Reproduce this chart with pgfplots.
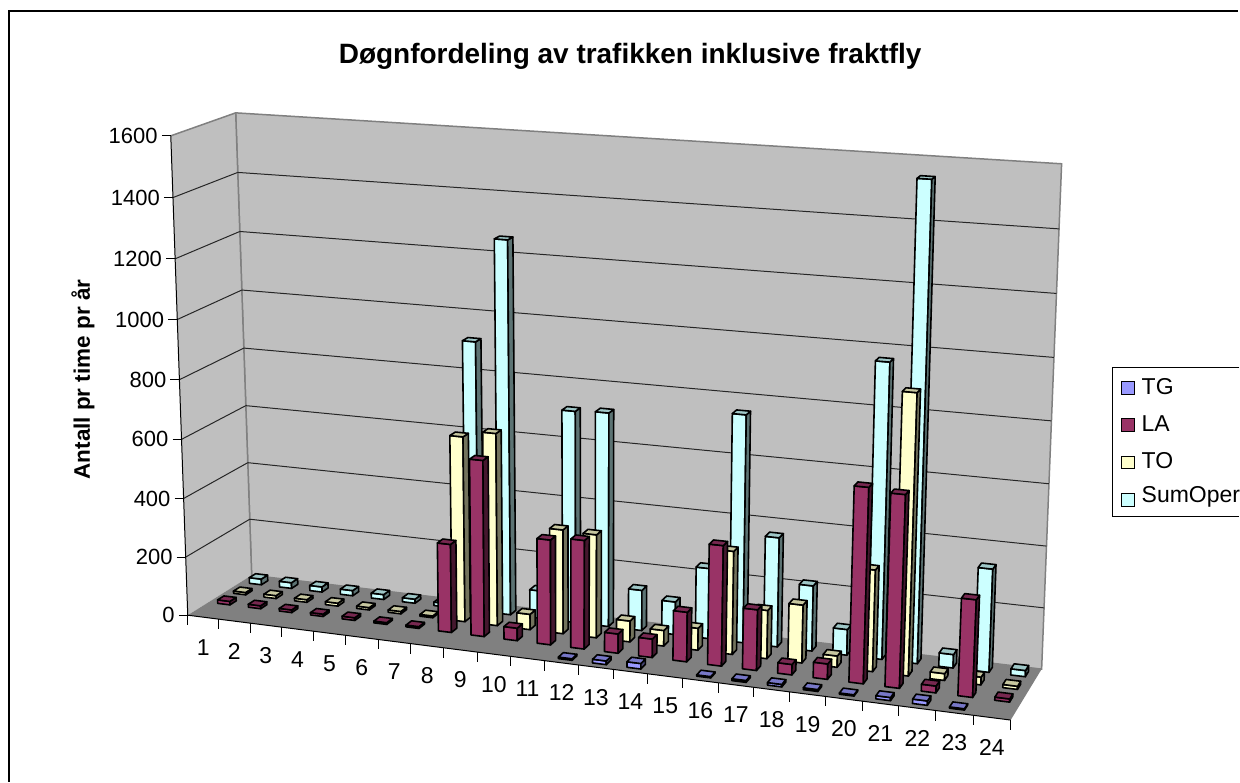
\documentclass[border=0pt]{standalone}
\usepackage{pgfplots}
\usepackage{pgfplotstable}
\usepackage{fontspec}
\setmainfont{Liberation Sans}
\pgfplotsset{compat=1.18}
\definecolor{cTG}{HTML}{9999FF}
\definecolor{cLA}{HTML}{993366}
\definecolor{cTO}{HTML}{FFFFCC}
\definecolor{cSum}{HTML}{CCFFFF}
\pgfplotstableread{
hour TG LA TO Sum
1 0 12 8 20
2 0 10 10 20
3 0 9 9 18
4 0 8 10 18
5 0 9 8 17
6 0 6 8 14
7 0 6 6 12
8 0 297 625 913
9 0 588 647 1258
10 0 42 52 94
11 0 349 349 712
12 5 360 345 717
13 12 64 70 136
14 18 61 52 110
15 0 163 73 235
16 4 393 340 753
17 6 198 159 362
18 8 34 190 216
19 6 50 37 85
20 4 627 330 963
21 10 616 905 1543
22 14 22 22 44
23 4 310 25 335
24 0 10 10 20
}\data
% perspective map from (category, depth, value) fractions to picture position
\newcommand\proj[4]{%
  \pgfmathsetmacro\U{(#1)-0.10*(#1)*(1-(#1))}%
  \pgfmathsetmacro\W{(#3)-0.035*(#3)*(1-(#3))}%
  \pgfmathsetmacro\V{#2}%
  \pgfmathsetmacro\Ax{188+824*\U+\V*(64-33*\U)}%
  \pgfmathsetmacro\Ay{616+105*\U+\V*(-40-11*\U)}%
  \pgfmathsetmacro\Bx{171+864*\U+\V*(65-37*\U)}%
  \pgfmathsetmacro\By{136+55*\U+\V*(-23-4*\U)}%
  \pgfmathsetmacro\Px{\Ax+\W*(\Bx-\Ax)}%
  \pgfmathsetmacro\Py{\Ay+\W*(\By-\Ay)}%
  \expandafter\edef\csname #4\endcsname{(\Px,\Py)}%
}
\newcommand\face[5]{%
  \edef\temp{\noexpand\addplot[fill=#1,draw=black,line width=1.6pt,line join=round,forget plot] coordinates {#2#3#4#5} --cycle;}\temp}
\newcommand\onebar[4]{% hour, row, value, colour
  \pgfmathsetmacro\ul{((#1)-0.7)/24}%
  \pgfmathsetmacro\ur{((#1)-0.3)/24}%
  \pgfmathsetmacro\vf{((#2)-0.7)/4}%
  \pgfmathsetmacro\vb{((#2)-0.3)/4}%
  \pgfmathsetmacro\wv{(#3)/1600}%
  \proj{\ul}{\vf}{0}{pa}\proj{\ur}{\vf}{0}{pb}\proj{\ur}{\vb}{0}{pc}%
  \proj{\ul}{\vf}{\wv}{pd}\proj{\ur}{\vf}{\wv}{pe}\proj{\ur}{\vb}{\wv}{pf}\proj{\ul}{\vb}{\wv}{pg}%
  \face{#4}{\pa}{\pb}{\pe}{\pd}%
  \face{#4!45!black}{\pb}{\pc}{\pf}{\pe}%
  \face{#4!78!black}{\pd}{\pe}{\pf}{\pg}%
}
\newcommand\rowbars[3]{% column, row, colour
  \pgfplotsforeachungrouped \r in {0,...,23}{%
    \pgfplotstablegetelem{\r}{#1}\of\data
    \let\val\pgfplotsretval
    \pgfmathsetmacro\hh{\r+1}%
    \pgfmathparse{\val>0?1:0}%
    \ifnum\pgfmathresult=1\relax
      \begingroup\onebar{\hh}{#2}{\val}{#3}\endgroup
    \fi
  }%
}
\newcommand\seg[3]{\edef\temp{\noexpand\addplot[#1,forget plot] coordinates {#2#3};}\temp}
\begin{document}
\begin{tikzpicture}
\begin{axis}[
  at={(0pt,0pt)},anchor=south west,
  width=1240pt,height=783pt,scale only axis,
  xmin=0,xmax=1240,ymin=0,ymax=783,y dir=reverse,
  hide axis,clip=false,
  no markers]
% frame
\addplot[black,line width=2pt,forget plot] coordinates {(9,783)(9,11)(1240,11)};
% walls and floor
\proj{0}{0}{0}{A}\proj{1}{0}{0}{B}\proj{1}{1}{0}{C}\proj{0}{1}{0}{D}
\proj{0}{0}{1}{E}\proj{1}{1}{1}{G}\proj{0}{1}{1}{H}
\edef\temp{\noexpand\addplot[fill=black!25,draw=black!50,line width=1.5pt,forget plot] coordinates {\D\C\G\H} --cycle;}\temp
\edef\temp{\noexpand\addplot[fill=black!25,draw=none,forget plot] coordinates {\A\D\H\E} --cycle;}\temp
\seg{black!50,line width=1.5pt}{\E}{\H}
\seg{black!50,line width=1.5pt}{\D}{\H}
% gridlines, value ticks
\pgfplotsforeachungrouped \t in {200,400,...,1400}{%
  \pgfmathsetmacro\ww{\t/1600}%
  \proj{0}{0}{\ww}{p}\proj{0}{1}{\ww}{q}\proj{1}{1}{\ww}{s}%
  \seg{black!85,line width=1pt}{\p}{\q}%
  \seg{black!85,line width=1pt}{\q}{\s}%
}
\edef\temp{\noexpand\addplot[fill=black!50,draw=none,forget plot] coordinates {\A\B\C\D} --cycle;}\temp
\seg{black,line width=1pt}{\E}{\A}
\seg{black,line width=1pt}{\A}{\B}
\pgfplotsforeachungrouped \t in {0,200,...,1600}{%
  \pgfmathsetmacro\ww{\t/1600}%
  \proj{0}{0}{\ww}{p}%
  \pgfmathsetmacro\tx{\Px-9}\pgfmathsetmacro\lx{\Px-13}%
  \edef\temp{\noexpand\addplot[black,line width=1pt,forget plot] coordinates {(\tx,\Py)(\Px,\Py)};
    \noexpand\node[anchor=east,inner sep=0pt,font=\noexpand\fontsize{22}{24}\noexpand\selectfont] at (axis cs:\lx,\Py) {\t};}\temp
}
% category ticks and names
\pgfplotsforeachungrouped \h in {0,...,24}{%
  \pgfmathsetmacro\ww{\h/24}%
  \proj{\ww}{0}{0}{p}%
  \pgfmathsetmacro\ty{\Py+10}%
  \edef\temp{\noexpand\addplot[black,line width=1pt,forget plot] coordinates {(\Px,\Py)(\Px,\ty)};}\temp
}
\pgfplotsforeachungrouped \h in {1,...,24}{%
  \pgfmathsetmacro\ww{(\h-0.5)/24}%
  \proj{\ww}{0}{0}{p}%
  \pgfmathsetmacro\ty{\Py+30}%
  \edef\temp{\noexpand\node[inner sep=0pt,font=\noexpand\fontsize{23}{25}\noexpand\selectfont] at (axis cs:\Px,\ty) {\h};}\temp
}
% bars, back row first
\rowbars{Sum}{4}{cSum}
\rowbars{TO}{3}{cTO}
\rowbars{LA}{2}{cLA}
\rowbars{TG}{1}{cTG}
% legend
\addplot[fill=white,draw=black,line width=1.2pt,forget plot] coordinates {(1241,368)(1114,368)(1114,517)(1241,517)};
\addplot[fill=cTG,draw=black,line width=1.4pt,forget plot] coordinates {(1123,382)(1136,382)(1136,395)(1123,395)} --cycle;
\addplot[fill=cLA,draw=black,line width=1.4pt,forget plot] coordinates {(1123,419)(1136,419)(1136,432)(1123,432)} --cycle;
\addplot[fill=cTO,draw=black,line width=1.4pt,forget plot] coordinates {(1123,457)(1136,457)(1136,469)(1123,469)} --cycle;
\addplot[fill=cSum,draw=black,line width=1.4pt,forget plot] coordinates {(1123,494)(1136,494)(1136,507)(1123,507)} --cycle;
\tikzset{lg/.style={anchor=west,inner sep=0pt,font=\fontsize{23}{25}\selectfont}}
\node[lg] at (axis cs:1143,387) {TG};
\node[lg] at (axis cs:1143,424) {LA};
\node[lg] at (axis cs:1143,461) {TO};
\node[lg] at (axis cs:1143,498) {SumOper};
\node[font=\fontsize{28}{30}\selectfont\bfseries,inner sep=0pt] at (axis cs:631,56) {Døgnfordeling av trafikken inklusive fraktfly};
\node[rotate=90,font=\fontsize{22.5}{25}\selectfont\bfseries,inner sep=0pt] at (axis cs:83,380) {Antall pr time pr år};
\end{axis}
\useasboundingbox (0,0) rectangle (1240pt,783pt);
\end{tikzpicture}
\end{document}
